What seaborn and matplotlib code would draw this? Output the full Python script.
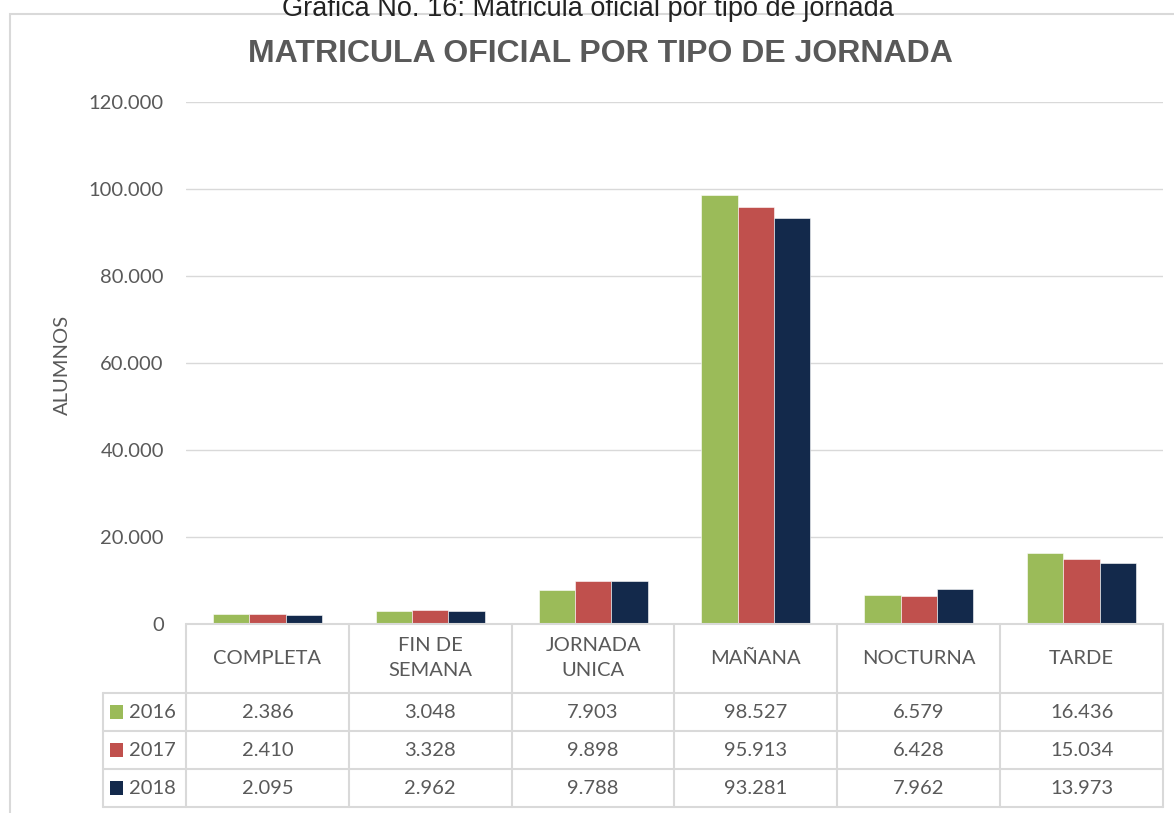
import numpy as np
import pandas as pd
import seaborn as sns
import matplotlib.pyplot as plt
from matplotlib.patches import Rectangle
from matplotlib.transforms import blended_transform_factory

# Data
categorias = ['COMPLETA', 'FIN DE\nSEMANA', 'JORNADA\nUNICA', 'MAÑANA', 'NOCTURNA', 'TARDE']
anios = ['2016', '2017', '2018']
vals_2016 = [2386, 3048, 7903, 98527, 6579, 16436]
vals_2017 = [2410, 3328, 9898, 95913, 6428, 15034]
vals_2018 = [2095, 2962, 9788, 93281, 7962, 13973]
colores = ['#9BBB59', '#C0504D', '#13294B']

df = pd.DataFrame({
    'jornada': categorias * 3,
    'anio': [a for a in anios for _ in categorias],
    'alumnos': vals_2016 + vals_2017 + vals_2018,
})

sns.set_theme(style='white')
plt.rcParams['font.family'] = ['Lato', 'DejaVu Sans']

W, H = 1174, 813
fig = plt.figure(figsize=(W / 100, H / 100), dpi=100)

def fx(px):
    return px / W

def fy(py):
    return 1 - py / H

gris = '#595959'
linea = '#D9D9D9'
fs = 14.5

# plot area
left, right, top, bottom = 186, 1163, 102, 624
ax = fig.add_axes([fx(left), fy(bottom), fx(right - left), (bottom - top) / H])
sns.barplot(data=df, x='jornada', y='alumnos', hue='anio', order=categorias,
            hue_order=anios, palette=colores, saturation=1, width=0.67,
            gap=0, edgecolor='white', linewidth=0.4, ax=ax, legend=False)
ax.set_xlim(-0.5, 5.5)
ax.set_ylim(0, 120000)
ax.set_yticks(np.arange(0, 120001, 20000))
ax.set_yticklabels([f'{int(v):,}'.replace(',', '.') for v in ax.get_yticks()],
                   color=gris, fontsize=fs)
ax.tick_params(axis='y', length=0, pad=16)
ax.set_xticks([])
ax.set_xlabel('')
ax.set_ylabel('')
ax.yaxis.grid(True, color=linea, linewidth=1)
ax.set_axisbelow(True)
for s in ax.spines.values():
    s.set_visible(False)

fig.text(fx(62), fy(365), 'ALUMNOS', rotation=90, ha='center', va='center',
         color=gris, fontsize=fs)

# titles
fig.text(fx(588), fy(9), 'Grafica No. 16: Matricula oficial por tipo de jornada',
         ha='center', va='center', fontsize=19.5, family='Liberation Sans', color='#222222')
fig.text(fx(600), fy(54), 'MATRICULA OFICIAL POR TIPO DE JORNADA', ha='center',
         va='center', fontsize=23, fontweight='bold', family='Liberation Sans', color=gris)

# chart border
fig.patches.append(Rectangle((fx(10), -0.01), 1.02, fy(14) + 0.01, transform=fig.transFigure,
                             fill=False, edgecolor=linea, linewidth=1.5))

# data table below axis
tr = blended_transform_factory(ax.transData, fig.transFigure)
rows_y = [624, 693, 731, 769, 807]
for i, y in enumerate(rows_y):
    x0 = left if i == 0 else 103
    fig.add_artist(plt.Line2D([fx(x0), fx(right)], [fy(y), fy(y)], transform=fig.transFigure,
                              color=linea, linewidth=1.5))
for k in range(len(categorias) + 1):
    fig.add_artist(plt.Line2D([k - 0.5, k - 0.5], [fy(624), fy(807)], transform=tr,
                              color=linea, linewidth=1.5))
fig.add_artist(plt.Line2D([fx(103), fx(103)], [fy(693), fy(807)], transform=fig.transFigure,
                          color=linea, linewidth=1.5))

for k, cat in enumerate(categorias):
    fig.text(k, fy(658), cat, transform=tr, ha='center', va='center', color=gris,
             fontsize=fs, linespacing=1.6)

series = [vals_2016, vals_2017, vals_2018]
for r, (anio, vals, c) in enumerate(zip(anios, series, colores)):
    yc = (rows_y[r + 1] + rows_y[r + 2]) / 2
    fig.patches.append(Rectangle((fx(110), fy(yc + 7)), 13 / W, 14 / H,
                                 transform=fig.transFigure, facecolor=c, edgecolor='none'))
    fig.text(fx(129), fy(yc), anio, ha='left', va='center', color=gris, fontsize=fs)
    for k, v in enumerate(vals):
        fig.text(k, fy(yc), f'{v:,}'.replace(',', '.'), transform=tr, ha='center',
                 va='center', color=gris, fontsize=fs)

fig.savefig('out.png', dpi=100)
